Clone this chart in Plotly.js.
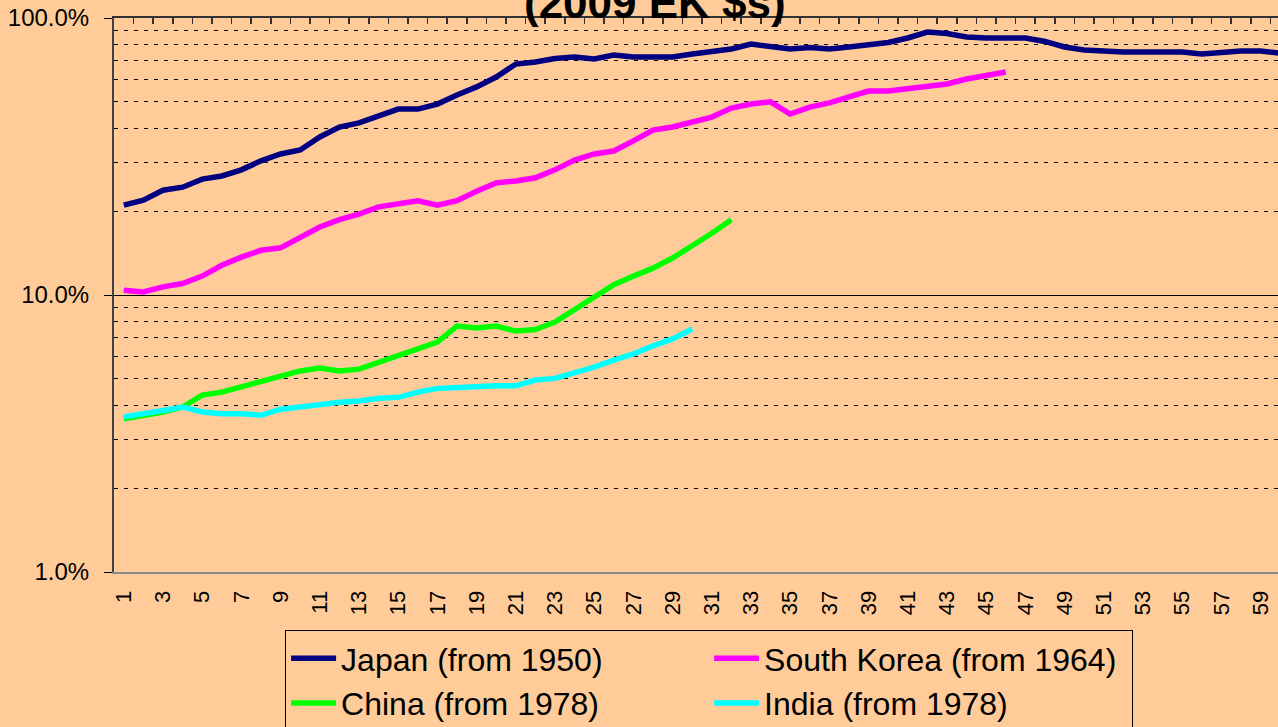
<!DOCTYPE html>
<html>
<head>
<meta charset="utf-8">
<script src="https://cdn.plot.ly/plotly-3.0.1.min.js"></script>
<style>
  html, body { margin: 0; padding: 0; background: #FFCC99; }
  #chart { width: 1278px; height: 727px; }
</style>
</head>
<body>
<div id="chart"></div>
<script>
// Years since start (category labels 1..60)
const categories = Array.from({length: 60}, (_, i) => i + 1);

// GDP per capita relative to US, percent (2009 EK $s)
const japan = [21.1, 22.0, 23.9, 24.5, 26.2, 26.9, 28.3, 30.5, 32.3, 33.4,
  37.2, 40.4, 41.8, 44.3, 46.9, 46.9, 48.9, 52.7, 56.4, 61.2,
  68.2, 69.4, 71.4, 72.3, 71.1, 73.5, 72.3, 72.3, 72.3, 74.1,
  76.0, 77.3, 80.5, 79.2, 77.3, 78.3, 77.3, 78.6, 80.5, 81.6,
  84.7, 89.0, 87.9, 85.4, 84.7, 84.7, 84.7, 82.3, 78.6, 76.6,
  75.7, 75.4, 75.4, 75.4, 75.4, 74.1, 75.4, 76.0, 76.0, 74.6];
const southKorea = [10.4, 10.25, 10.7, 11.0, 11.7, 12.8, 13.7, 14.5, 14.8, 16.2,
  17.6, 18.7, 19.6, 20.8, 21.3, 21.9, 21.1, 21.9, 23.7, 25.4,
  25.8, 26.5, 28.3, 30.7, 32.3, 33.1, 36.0, 39.4, 40.4, 42.2,
  43.9, 47.3, 48.9, 49.8, 45.0, 47.7, 49.4, 51.9, 54.5, 54.5,
  55.4, 56.4, 57.8, 60.2, 61.7, 63.8];
const china = [3.57, 3.66, 3.78, 3.94, 4.35, 4.46, 4.65, 4.90, 5.06, 5.32,
  5.45, 5.32, 5.40, 5.73, 6.03, 6.39, 6.76, 7.72, 7.6, 7.72,
  7.41, 7.5, 7.99, 8.83, 9.75, 10.9, 11.7, 12.5, 13.6, 15.0,
  16.7, 18.7];
const india = [3.63, 3.75, 3.83, 3.94, 3.78, 3.73, 3.73, 3.68, 3.87, 3.94,
  4.04, 4.10, 4.14, 4.24, 4.27, 4.46, 4.6, 4.65, 4.7, 4.7,
  4.7, 4.93, 5.0, 5.23, 5.49, 5.82, 6.13, 6.55, 6.94, 7.54];

const seriesNames = ['Japan (from 1950)', 'South Korea (from 1964)', 'China (from 1978)', 'India (from 1978)'];
const seriesColors = ['#000080', '#FF00FF', '#00FF00', '#00FFFF'];
const seriesValues = [japan, southKorea, china, india];

const yTickVals = [1, 10, 100];
const yTickText = ['1.0%', '10.0%', '100.0%'];
const yMinorVals = [2, 3, 4, 5, 6, 7, 8, 9, 20, 30, 40, 50, 60, 70, 80, 90];
const xTickVals = categories.filter(c => c % 2 === 1);
const titleText = '(2009 EK $s)';

const FONT = 'Liberation Sans, Arial, sans-serif';

const traces = seriesValues.map((vals, k) => ({
  type: 'scatter',
  mode: 'lines',
  name: seriesNames[k],
  x: categories.slice(0, vals.length),
  y: vals,
  line: { color: seriesColors[k], width: 5.5 },
  hoverinfo: 'x+y+name'
}));
traces.push({ type: 'scatter', x: [], y: [], xaxis: 'x2', showlegend: false, hoverinfo: 'skip' });

const xRange = [0.5, 59.89];

const layout = {
  width: 1278,
  height: 727,
  paper_bgcolor: '#FFCC99',
  plot_bgcolor: '#FFCC99',
  margin: { l: 114, r: 0, t: 18, b: 155, pad: 0, autoexpand: false },
  font: { family: FONT, color: '#000' },
  showlegend: true,
  xaxis: {
    range: xRange,
    tickmode: 'array',
    tickvals: xTickVals,
    ticktext: xTickVals.map(String),
    tickangle: -90,
    tickfont: { size: 22, family: FONT, color: '#000' },
    ticks: '',
    ticklabelstandoff: 8,
    showline: true,
    linecolor: '#8a8a8a',
    linewidth: 2,
    showgrid: false,
    zeroline: false,
    automargin: false,
    fixedrange: true
  },
  xaxis2: {
    overlaying: 'x',
    side: 'top',
    anchor: 'y',
    range: xRange,
    tickmode: 'linear',
    tick0: 0.5,
    dtick: 1,
    ticks: 'inside',
    ticklen: 6,
    tickwidth: 1.5,
    tickcolor: '#333',
    showline: true,
    linecolor: '#333',
    linewidth: 2,
    showticklabels: false,
    showgrid: false,
    zeroline: false,
    automargin: false,
    fixedrange: true
  },
  yaxis: {
    type: 'log',
    range: [0, 2],
    tickmode: 'array',
    tickvals: yTickVals,
    ticktext: yTickText,
    tickfont: { size: 24, family: FONT, color: '#000' },
    ticks: 'outside',
    ticklen: 8,
    tickcolor: '#000',
    ticklabelstandoff: 10,
    showline: true,
    linecolor: '#404040',
    linewidth: 2,
    showgrid: true,
    gridcolor: '#000',
    gridwidth: 1,
    zeroline: false,
    automargin: false,
    minor: {
      tickmode: 'array',
      tickvals: yMinorVals,
      ticks: '',
      showgrid: true,
      gridcolor: '#000',
      gridwidth: 1,
      griddash: '4px,6px'
    },
    fixedrange: true
  },
  legend: {
    orientation: 'h',
    x: 0.147,
    xanchor: 'left',
    y: -0.1047,
    yanchor: 'top',
    bgcolor: 'rgba(0,0,0,0)',
    bordercolor: '#000',
    borderwidth: 1,
    font: { size: 32, family: FONT, color: '#000' },
    entrywidth: 363,
    entrywidthmode: 'pixels',
    itemwidth: 45,
    traceorder: 'normal'
  },
  annotations: [{
    text: titleText,
    xref: 'paper', yref: 'paper',
    x: 0.4648, y: 0.98,
    xanchor: 'center', yanchor: 'bottom',
    showarrow: false,
    font: { size: 44, family: FONT, color: '#000', weight: 'bold' }
  }]
};

Plotly.newPlot('chart', traces, layout, { displayModeBar: false, staticPlot: true });
</script>
</body>
</html>
